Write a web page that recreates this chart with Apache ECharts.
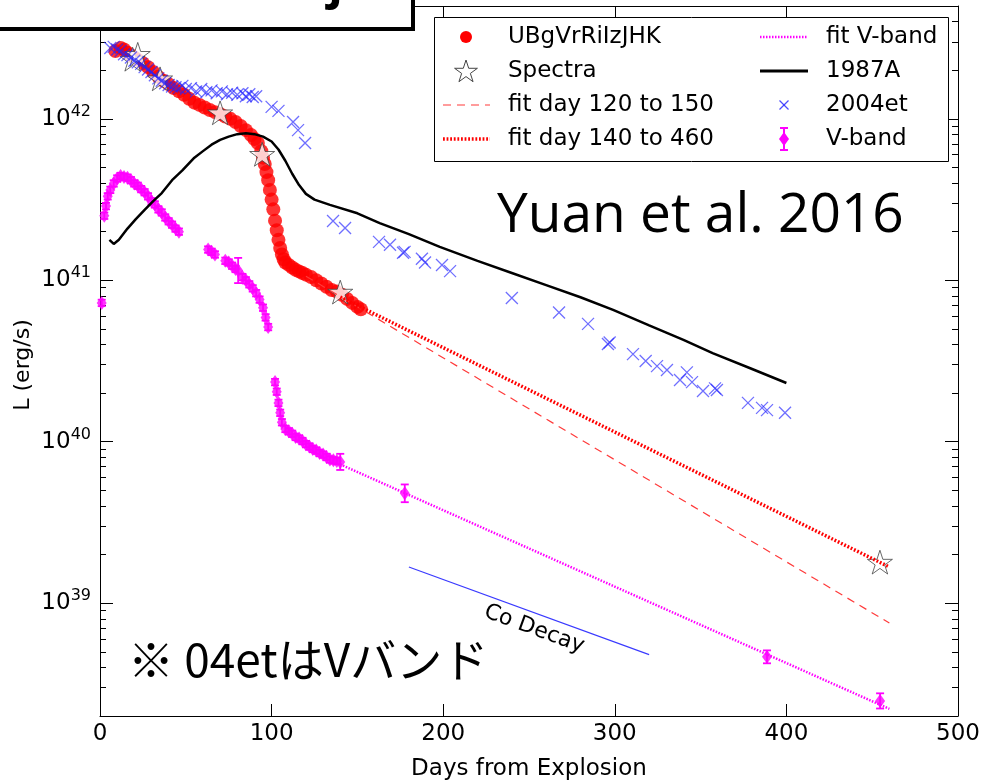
<!DOCTYPE html>
<html>
<head>
<meta charset="utf-8">
<script src="https://cdn.jsdelivr.net/npm/echarts@6/dist/echarts.min.js"></script>
<style>html,body{margin:0;padding:0;background:#fff;}#c{width:981px;height:780px;}</style>
</head>
<body>
<div id="c"></div>
<script>
// ---------------- data (luminosity in erg/s, days from explosion) ----------------
const xTickValues = [0, 100, 200, 300, 400, 500];
const yMajorExponents = [39, 40, 41, 42];
const yMinorMultipliers = [2, 3, 4, 5, 6, 7, 8, 9];
const yRangeLum = [2e38, 5e42];

// UBgVrRiIzJHK bolometric points
const redDays = [9,12,14,16,18,20,22,25,28,31,34,37,40,43,46,49,52,55,58,61,64,67,70,73,76,79,82,85,88,90,92,94,95,96,97,98,99,100,101,102,103,104,105,106,107,108,110,112,114,116,118,120,123,126,129,132,135,138,141,144,147,150,152];
const redLum = [2.63e42,2.75e42,2.69e42,2.57e42,2.48e42,2.40e42,2.32e42,2.21e42,2.09e42,1.95e42,1.82e42,1.72e42,1.64e42,1.55e42,1.48e42,1.41e42,1.33e42,1.26e42,1.22e42,1.175e42,1.135e42,1.10e42,1.07e42,1.035e42,1.0e42,9.55e41,9.02e41,8.51e41,7.94e41,7.50e41,7.08e41,6.31e41,5.75e41,5.25e41,4.68e41,4.17e41,3.63e41,3.16e41,2.75e41,2.34e41,2.04e41,1.78e41,1.585e41,1.445e41,1.35e41,1.29e41,1.245e41,1.20e41,1.16e41,1.135e41,1.11e41,1.084e41,1.047e41,1.0e41,9.55e40,9.12e40,8.71e40,8.51e40,8.13e40,7.67e40,7.24e40,6.84e40,6.61e40];

// Spectra epochs
const specDays = [19, 22, 35, 70, 94.5, 140, 454.5];
const specLum = [2.34e42, 2.51e42, 1.77e42, 1.09e42, 6.03e41, 8.45e40, 1.795e39];

// fits
const fit120Days = [120, 460];
const fit120Lum = [1.06e41, 7.53e38];
const fit140Days = [140, 460];
const fit140Lum = [7.87e40, 1.675e39];
const fitVDays = [140, 460];
const fitVLum = [7.24e39, 2.213e38];

// SN 1987A
const sn87Days = [5.5,8,11,16,21,26,31,36,42,48,55,60,65,70,75,80,85,90,95,100,104,108,112,116,120,125,134,150,163,180,198,220,240,260,280,299,320,340,357,380,400];
const sn87Lum = [1.78e41,1.68e41,1.78e41,2.09e41,2.40e41,2.73e41,3.09e41,3.47e41,4.17e41,4.79e41,5.75e41,6.31e41,6.92e41,7.41e41,7.76e41,8.04e41,8.13e41,8.04e41,7.76e41,7.24e41,6.46e41,5.50e41,4.57e41,3.89e41,3.43e41,3.16e41,2.93e41,2.60e41,2.26e41,1.93e41,1.61e41,1.32e41,1.11e41,9.33e40,7.85e40,6.55e40,5.25e40,4.27e40,3.54e40,2.82e40,2.31e40];

// SN 2004et
const sn04Days = [6,8,10,12,14,16,18,20,22,24,26,28,30,32,34,36,38,40,42,44,46,48,50,53,56,59,62,65,68,71,74,77,80,83,85,87,89,91,100,104,112.5,115.4,119.5,135.8,142.8,162.6,169,176.6,177.5,187.6,189.4,199.3,204,240,267.5,284.4,296,297,310.6,318,324.6,330.4,338,342,345,351.4,358.4,359.5,377.6,385.8,388.7,399.2];
const sn04Lum = [2.75e42,2.79e42,2.69e42,2.63e42,2.51e42,2.48e42,2.40e42,2.29e42,2.24e42,2.19e42,2.09e42,2.02e42,1.95e42,1.86e42,1.78e42,1.72e42,1.66e42,1.62e42,1.585e42,1.57e42,1.55e42,1.60e42,1.53e42,1.55e42,1.48e42,1.53e42,1.46e42,1.50e42,1.44e42,1.48e42,1.42e42,1.45e42,1.41e42,1.44e42,1.38e42,1.42e42,1.365e42,1.38e42,1.186e42,1.12e42,9.55e41,8.51e41,7.08e41,2.33e41,2.11e41,1.73e41,1.66e41,1.48e41,1.50e41,1.36e41,1.29e41,1.245e41,1.14e41,7.76e40,6.31e40,5.37e40,4.03e40,4.12e40,3.49e40,3.16e40,2.94e40,2.78e40,2.41e40,2.69e40,2.34e40,2.06e40,2.14e40,2.09e40,1.74e40,1.62e40,1.57e40,1.51e40];

// V-band (with error in dex)
const vDays = [1,2.5,3.5,4.5,6,8,10,12,14,16,18,20,22,24,26,28,30,32,34,36,38,40,42,44,46,
  63,65,67,73,75,77,79,80.5,83,85,87,89,91,93,95,96.5,98,
  102,103,104,105,106,108,110,112,114,116,118,120,122,124,126,128,130,132,134,136,138,140,
  177.6,388.7,454.6];
const vLum = [7.24e40,2.51e41,2.88e41,3.31e41,3.63e41,3.98e41,4.27e41,4.42e41,4.37e41,4.32e41,4.17e41,3.98e41,3.85e41,3.67e41,3.51e41,3.31e41,3.09e41,2.95e41,2.75e41,2.63e41,2.45e41,2.32e41,2.21e41,2.09e41,2.00e41,
  1.55e41,1.50e41,1.445e41,1.32e41,1.29e41,1.23e41,1.175e41,1.15e41,1.047e41,1.0e41,9.44e40,8.91e40,8.32e40,7.59e40,6.76e40,5.89e40,5.13e40,
  2.34e40,2.04e40,1.74e40,1.51e40,1.32e40,1.20e40,1.16e40,1.12e40,1.07e40,1.047e40,1.01e40,9.66e39,9.33e39,9.02e39,8.81e39,8.51e39,8.32e39,8.04e39,7.76e39,7.67e39,7.59e39,7.50e39,
  4.79e39,4.65e38,2.48e38];
const vLogErr = [0.02,0.02,0.02,0.02,0.02,0.02,0.02,0.02,0.02,0.02,0.02,0.02,0.02,0.02,0.02,0.02,0.02,0.02,0.02,0.02,0.02,0.02,0.02,0.02,0.02,
  0.02,0.02,0.02,0.02,0.02,0.02,0.02,0.078,0.02,0.02,0.02,0.02,0.02,0.02,0.02,0.02,0.02,
  0.02,0.02,0.02,0.02,0.02,0.02,0.02,0.02,0.02,0.02,0.02,0.02,0.02,0.02,0.02,0.02,0.02,0.02,0.02,0.02,0.02,0.05,
  0.055,0.04,0.047];

// Co decay reference line
const coDays = [180, 320];
const coLum = [1.675e39, 4.80e38];
const coLabelAt = [253, 6.9e38];

const legendLabels = ['UBgVrRiIzJHK','Spectra','fit day 120 to 150','fit day 140 to 460','fit V-band','1987A','2004et','V-band'];
const xAxisTitle = 'Days from Explosion';
const yAxisTitle = 'L (erg/s)';

// ---------------- chart ----------------
const FONT = 'DejaVu Sans';
const log = Math.log10;
const pts = (d, l) => d.map((x, i) => [x, log(l[i])]);
const yMin = log(yRangeLum[0]), yMax = log(yRangeLum[1]);
const minorVals = [];
for (let e = 38; e <= 42; e++) {
  for (const m of yMinorMultipliers) {
    const v = e + log(m);
    if (v >= yMin - 1e-9 && v <= yMax + 1e-9) minorVals.push(v);
  }
}

function starPoints(cx, cy, R) {
  const p = [];
  for (let i = 0; i < 10; i++) {
    const a = -Math.PI / 2 + i * Math.PI / 5;
    const r = i % 2 ? R * 0.382 : R;
    p.push([cx + r * Math.cos(a), cy + r * Math.sin(a)]);
  }
  return p;
}
const starSym = 'path://' + starPoints(0, 0, 10).map((q, i) => (i ? 'L' : 'M') + q[0].toFixed(3) + ',' + q[1].toFixed(3)).join('') + 'Z';

const chart = echarts.init(document.getElementById('c'), null, {renderer: 'canvas', width: 981, height: 780});

const axisLineStyle = {color: '#000', width: 1};
const hiddenLabel = {show: false};
const blueX = 'rgba(35,35,255,0.82)';

function renderErr(params, api) {
  const x = api.value(0), lo = api.value(2), hi = api.value(3);
  const p1 = api.coord([x, lo]), p2 = api.coord([x, hi]);
  const c = 4;
  const st = {stroke: '#ff00ff', lineWidth: 1.8};
  return {type: 'group', children: [
    {type: 'line', shape: {x1: p1[0], y1: p1[1], x2: p2[0], y2: p2[1]}, style: st},
    {type: 'line', shape: {x1: p1[0] - c, y1: p1[1], x2: p1[0] + c, y2: p1[1]}, style: st},
    {type: 'line', shape: {x1: p2[0] - c, y1: p2[1], x2: p2[0] + c, y2: p2[1]}, style: st}
  ]};
}

const option = {
  animation: false,
  backgroundColor: '#fff',
  grid: {left: 100, right: 23, top: 6, bottom: 64, containLabel: false, outerBoundsMode: 'none'},
  xAxis: [
    {type: 'value', position: 'bottom', min: 0, max: 500, interval: 100,
     axisLine: {onZero: false, lineStyle: axisLineStyle},
     axisTick: {inside: true, length: 12, lineStyle: {color: '#000'}},
     axisLabel: {color: '#000', fontSize: 23, fontFamily: FONT, margin: 7,
                 customValues: xTickValues},
     splitLine: {show: false},
     name: xAxisTitle, nameLocation: 'middle', nameGap: 42,
     nameTextStyle: {color: '#000', fontSize: 23, fontFamily: FONT}},
    {type: 'value', position: 'top', min: 0, max: 500, interval: 100,
     axisLine: {onZero: false, lineStyle: axisLineStyle},
     axisTick: {inside: true, length: 12, lineStyle: {color: '#000'}},
     axisLabel: hiddenLabel, splitLine: {show: false}}
  ],
  yAxis: [
    {type: 'value', position: 'left', min: yMin, max: yMax,
     axisLine: {onZero: false, lineStyle: axisLineStyle},
     axisTick: {inside: true, length: 13, customValues: yMajorExponents, lineStyle: {color: '#000'}},
     axisLabel: {customValues: yMajorExponents, margin: 9,
       formatter: v => '{b|10}{s|' + Math.round(v) + '}',
       rich: {b: {fontSize: 23, fontFamily: FONT, color: '#000', lineHeight: 30},
              s: {fontSize: 16, fontFamily: FONT, color: '#000', verticalAlign: 'top', lineHeight: 15}}},
     splitLine: {show: false}},
    {type: 'value', position: 'left', min: yMin, max: yMax,
     axisLine: {show: false, onZero: false},
     axisTick: {inside: true, length: 6, customValues: minorVals, lineStyle: {color: '#000'}},
     axisLabel: hiddenLabel, splitLine: {show: false}},
    {type: 'value', position: 'right', min: yMin, max: yMax,
     axisLine: {onZero: false, lineStyle: axisLineStyle},
     axisTick: {inside: true, length: 13, customValues: yMajorExponents, lineStyle: {color: '#000'}},
     axisLabel: hiddenLabel, splitLine: {show: false}},
    {type: 'value', position: 'right', min: yMin, max: yMax,
     axisLine: {show: false, onZero: false},
     axisTick: {inside: true, length: 6, customValues: minorVals, lineStyle: {color: '#000'}},
     axisLabel: hiddenLabel, splitLine: {show: false}}
  ],
  series: [
    {name: 'fit day 120 to 150', type: 'line', data: pts(fit120Days, fit120Lum), symbol: 'none',
     lineStyle: {color: '#ff3a3a', width: 1.2, type: [8, 6]}},
    {name: 'fit day 140 to 460', type: 'line', data: pts(fit140Days, fit140Lum), symbol: 'none',
     lineStyle: {color: '#ff0000', width: 3.5, type: [1.8, 1.8]}},
    {name: 'fit V-band', type: 'line', data: pts(fitVDays, fitVLum), symbol: 'none',
     lineStyle: {color: '#ff00ff', width: 2.5, type: [1.5, 1.5]}},
    {name: 'Co Decay', type: 'line', data: pts(coDays, coLum), symbol: 'none',
     lineStyle: {color: '#3a3aff', width: 1.2}},
    {name: 'UBgVrRiIzJHK', type: 'scatter', data: pts(redDays, redLum), symbol: 'circle', symbolSize: 14,
     itemStyle: {color: '#ff0000'}},
    {name: 'Spectra', type: 'scatter', data: pts(specDays, specLum), symbol: starSym, symbolSize: 25,
     symbolKeepAspect: true, itemStyle: {color: '#ffffff', borderColor: '#444', borderWidth: 1}},
    {name: '1987A', type: 'line', data: pts(sn87Days, sn87Lum), symbol: 'none',
     lineStyle: {color: '#000', width: 2.5}},
    {name: '2004et', type: 'scatter', data: pts(sn04Days, sn04Lum), symbol: 'path://M0,0L10,10M10,0L0,10',
     symbolSize: 12, itemStyle: {color: 'rgba(0,0,0,0)', borderColor: blueX, borderWidth: 1.3}},
    {name: 'V-band error', type: 'custom', renderItem: renderErr, encode: {x: 0, y: 1},
     data: vDays.map((d, i) => [d, log(vLum[i]), log(vLum[i]) - vLogErr[i], log(vLum[i]) + vLogErr[i]])},
    {name: 'V-band', type: 'scatter', data: pts(vDays, vLum), symbol: 'diamond', symbolSize: [10, 14],
     itemStyle: {color: '#ff00ff'}}
  ]
};
chart.setOption(option);

// ---------------- annotations / legend ----------------
const g = [];
// y-axis title (rotated)
const yTitleAt = chart.convertToPixel({xAxisIndex: 0, yAxisIndex: 0}, [0, (yMin + yMax) / 2]);
g.push({type: 'text', z: 90, x: 23, y: yTitleAt[1] + 4, rotation: Math.PI / 2,
  style: {text: yAxisTitle, fill: '#000', font: '22px "DejaVu Sans"', align: 'center', verticalAlign: 'middle'}});

const LX = 434, LY = 17, LW = 514, LH = 144;
g.push({type: 'rect', z: 100, shape: {x: LX + 0.5, y: LY + 0.5, width: LW, height: LH}, style: {fill: '#fff', stroke: '#000', lineWidth: 1}});
const rowsY = [37, 71, 105, 139];
const iconCX = [466, 784], textX = [508, 826];
const lineX = [[443, 490], [760, 808]];
const txt = (s, x, y) => ({type: 'text', z: 101, style: {text: s, x: x, y: y, fill: '#000', font: '23px "DejaVu Sans"', verticalAlign: 'middle', align: 'left'}});
legendLabels.forEach((lab, i) => {
  const col = i < 4 ? 0 : 1, row = i % 4;
  g.push(txt(lab, textX[col], rowsY[row]));
});
g.push({type: 'circle', z: 101, shape: {cx: iconCX[0], cy: rowsY[0], r: 6}, style: {fill: '#ff0000'}});
g.push({type: 'polygon', z: 101, shape: {points: starPoints(iconCX[0], rowsY[1] + 1, 12)}, style: {fill: '#fff', stroke: '#444', lineWidth: 1}});
g.push({type: 'line', z: 101, shape: {x1: lineX[0][0], y1: rowsY[2], x2: lineX[0][1], y2: rowsY[2]}, style: {stroke: '#ff3a3a', lineWidth: 1.2, lineDash: [8, 6]}});
g.push({type: 'line', z: 101, shape: {x1: lineX[0][0], y1: rowsY[3], x2: lineX[0][1], y2: rowsY[3]}, style: {stroke: '#ff0000', lineWidth: 3.5, lineDash: [1.8, 1.8]}});
g.push({type: 'line', z: 101, shape: {x1: lineX[1][0], y1: rowsY[0], x2: lineX[1][1], y2: rowsY[0]}, style: {stroke: '#ff00ff', lineWidth: 2.5, lineDash: [1.5, 1.5]}});
g.push({type: 'line', z: 101, shape: {x1: lineX[1][0], y1: rowsY[1], x2: lineX[1][1], y2: rowsY[1]}, style: {stroke: '#000', lineWidth: 3}});
g.push({type: 'line', z: 101, shape: {x1: iconCX[1] - 4.5, y1: rowsY[2] - 4.5, x2: iconCX[1] + 4.5, y2: rowsY[2] + 4.5}, style: {stroke: blueX, lineWidth: 1.2}});
g.push({type: 'line', z: 101, shape: {x1: iconCX[1] + 4.5, y1: rowsY[2] - 4.5, x2: iconCX[1] - 4.5, y2: rowsY[2] + 4.5}, style: {stroke: blueX, lineWidth: 1.2}});
g.push({type: 'line', z: 101, shape: {x1: iconCX[1], y1: rowsY[3] - 11, x2: iconCX[1], y2: rowsY[3] + 11}, style: {stroke: '#ff00ff', lineWidth: 2}});
g.push({type: 'line', z: 101, shape: {x1: iconCX[1] - 4, y1: rowsY[3] - 11, x2: iconCX[1] + 4, y2: rowsY[3] - 11}, style: {stroke: '#ff00ff', lineWidth: 2}});
g.push({type: 'line', z: 101, shape: {x1: iconCX[1] - 4, y1: rowsY[3] + 11, x2: iconCX[1] + 4, y2: rowsY[3] + 11}, style: {stroke: '#ff00ff', lineWidth: 2}});
g.push({type: 'polygon', z: 101, shape: {points: [[iconCX[1], rowsY[3] - 7], [iconCX[1] + 5, rowsY[3]], [iconCX[1], rowsY[3] + 7], [iconCX[1] - 5, rowsY[3]]]}, style: {fill: '#ff00ff'}});

// Co Decay label
const c0 = chart.convertToPixel({xAxisIndex: 0, yAxisIndex: 0}, [coDays[0], log(coLum[0])]);
const c1 = chart.convertToPixel({xAxisIndex: 0, yAxisIndex: 0}, [coDays[1], log(coLum[1])]);
const cl = chart.convertToPixel({xAxisIndex: 0, yAxisIndex: 0}, [coLabelAt[0], log(coLabelAt[1])]);
const ang = Math.atan2(c1[1] - c0[1], c1[0] - c0[0]);
g.push({type: 'text', z: 90, x: cl[0], y: cl[1], rotation: -ang,
  style: {text: 'Co Decay', fill: '#000', font: '22px "DejaVu Sans"', align: 'center', verticalAlign: 'middle'}});

// slide annotations
g.push({type: 'text', z: 90, style: {text: 'Yuan et al. 2016', x: 497, y: 216, fill: '#000', font: '55px "Open Sans"', align: 'left', verticalAlign: 'middle'}});
g.push({type: 'text', z: 90, style: {text: '※ 04etはVバンド', x: 128, y: 660, fill: '#000', font: '46px "Noto Sans CJK JP"', align: 'left', verticalAlign: 'middle'}});

// cropped title box at top-left
g.push({type: 'rect', z: 110, shape: {x: -20, y: -80, width: 433, height: 109}, style: {fill: '#fff', stroke: '#000', lineWidth: 4}});
g.push({type: 'text', z: 111, style: {text: 'SN 2013ej', x: 343, y: -16, fill: '#000', font: 'bold 48px "Open Sans"', align: 'right', verticalAlign: 'middle'}});

chart.setOption({graphic: g});
</script>
</body>
</html>
